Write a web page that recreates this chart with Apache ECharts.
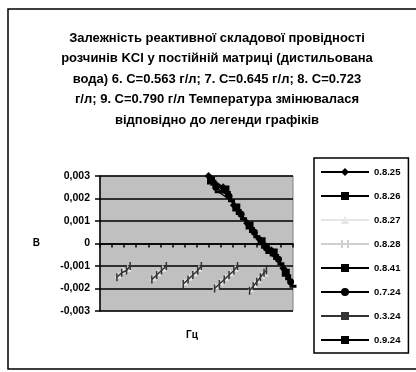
<!DOCTYPE html>
<html><head><meta charset="utf-8">
<script src="https://cdn.jsdelivr.net/npm/echarts@6/dist/echarts.min.js"></script>
<style>html,body{margin:0;padding:0;background:#fff}#c{width:416px;height:372px}</style>
</head><body><div id="c"></div>
<script>
const titleText = 'Залежність реактивної складової провідності\nрозчинів KCl у постійній матриці (дистильована\nвода) 6. C=0.563 г/л; 7. C=0.645 г/л; 8. C=0.723\nг/л; 9. C=0.790 г/л Температура змінювалася\nвідповідно до легенди графіків';
const seriesNames = ['0.8.25','0.8.26','0.8.27','0.8.28','0.8.41','0.7.24','0.3.24','0.9.24'];
const yTickLabels = ['-0,003','-0,002','-0,001','0','0,001','0,002','0,003'];
const xName = 'Гц';
const yName = 'В';

// series values: x positions (frequency steps) and y values; null = gap
const xs1 = [9.0,10.2,11.1,12.2,13.2,14.2,15.2];
const ys1 = [0.0030,0.0025,0.0017,0.0009,0.0002,-0.0003,-0.0011];
const xs2 = [9.2,10.4,11.3,12.4,13.4,14.4,15.4];
const ys2 = [0.0028,0.0024,0.0016,0.0008,0.0001,-0.0004,-0.0013];
const xs3 = [1.5,1.9,2.3,null,4.4,4.8,5.2,null,7.0,7.4,7.8,8.2,null,9.6,10.0,10.4,10.8,11.2,null,12.5,12.8,13.1,13.4,13.7];
const ys3 = [-0.0014,-0.0012,-0.0011,null,-0.0015,-0.0013,-0.0011,null,-0.0017,-0.0015,-0.0013,-0.0011,null,-0.0019,-0.0017,-0.0015,-0.0013,-0.0011,null,-0.0020,-0.0018,-0.0016,-0.0014,-0.0013];
const xs4 = [9.1,10.3,11.2,12.3,13.3,14.3,15.3];
const ys4 = [0.0029,0.0024,0.0016,0.0008,0.0001,-0.0004,-0.0012];
const xs5 = [9.4,10.6,11.5,12.6,13.6,14.6,15.6];
const ys5 = [0.0027,0.0022,0.0014,0.0006,-0.0001,-0.0006,-0.0015];
const xs6 = [9.6,10.7,11.7,12.8,13.8,14.8,15.8];
const ys6 = [0.0025,0.0021,0.0013,0.0005,-0.0002,-0.0007,-0.0017];
const xs7 = [1.4,1.8,2.2,2.5,null,4.3,4.7,5.1,5.5,null,6.9,7.3,7.7,8.1,8.4,null,9.5,9.9,10.3,10.7,11.1,11.4,null,12.4,12.7,13.0,13.3,13.6,13.8];
const ys7 = [-0.0015,-0.0013,-0.0012,-0.0010,null,-0.0016,-0.0014,-0.0012,-0.0010,null,-0.0018,-0.0016,-0.0014,-0.0012,-0.0010,null,-0.0020,-0.0018,-0.0016,-0.0014,-0.0012,-0.0010,null,-0.0021,-0.0019,-0.0017,-0.0015,-0.0013,-0.0012];
const xs8 = [9.8,10.9,11.9,13.0,14.0,15.0,16.0];
const ys8 = [0.0023,0.0019,0.0011,0.0003,-0.0004,-0.0009,-0.0019];

const XS = [xs1,xs2,xs3,xs4,xs5,xs6,xs7,xs8];
const YS = [ys1,ys2,ys3,ys4,ys5,ys6,ys7,ys8];
const styles = [
  {color:'#000', symbol:'diamond', size:8, w:1.5},
  {color:'#000', symbol:'rect', size:8, w:1.5},
  {color:'#e6e6e6', symbol:'triangle', size:7, w:1},
  {color:'#cfcfcf', symbol:'path://M0,0H1V8H0ZM3,0H4V8H3Z', size:[4,8], w:1},
  {color:'#000', symbol:'rect', size:6, w:1.5},
  {color:'#000', symbol:'circle', size:7, w:1.5},
  {color:'#333', symbol:'path://M0,0H1V8H0Z', size:[1.5,8], w:1.5},
  {color:'#000', symbol:'path://M0,0H6V2H0Z', size:[7,3], w:1.5}
];
const series = seriesNames.map((n,i)=>({
  name:n, type:'line',
  data: XS[i].map((x,j)=> x===null ? ['-','-'] : [x, YS[i][j]]),
  symbol: styles[i].symbol, symbolSize: styles[i].size,
  lineStyle:{color:styles[i].color, width:styles[i].w},
  itemStyle:{color:styles[i].color},
  connectNulls:false, animation:false, z: (i===2||i===3)?2:3
}));

const chart = echarts.init(document.getElementById('c'), null, {renderer:'canvas'});
chart.setOption({
  animation:false,
  title:{text:titleText, left:212, top:23, textAlign:'center',
    textStyle:{fontFamily:'Liberation Sans', fontSize:13, fontWeight:'bold', lineHeight:20.5, color:'#000'}},
  grid:{left:100, top:176, width:193, height:135, show:true, backgroundColor:'#c0c0c0', borderColor:'#808080', borderWidth:1},
  xAxis:{type:'value', min:0, max:16, interval:1,
    axisLine:{onZero:true, lineStyle:{color:'#000', width:1.5}},
    axisTick:{show:true, length:4, lineStyle:{color:'#000', width:1.5}},
    axisLabel:{show:false}, splitLine:{show:false}},
  yAxis:{type:'value', min:-0.003, max:0.003, interval:0.001,
    name:yName, nameLocation:'middle', nameGap:60, nameRotate:0,
    nameTextStyle:{fontFamily:'Liberation Sans', fontSize:10, fontWeight:'bold', color:'#000'},
    axisLine:{show:true, lineStyle:{color:'#000', width:1.5}},
    axisTick:{show:true, length:5, lineStyle:{color:'#000', width:1.5}},
    axisLabel:{fontFamily:'Liberation Sans', fontSize:10.5, fontWeight:'bold', color:'#000', margin:10,
      formatter:v=>yTickLabels[Math.round(v*1000)+3]},
    splitLine:{show:true, lineStyle:{color:'#000', width:1.5}}},
  legend:{orient:'vertical', left:314, top:158, itemWidth:48, itemHeight:10, itemGap:14,
    padding:[9,8,8,6], backgroundColor:'#fff', borderColor:'#000', borderWidth:1.5,
    textStyle:{fontFamily:'Liberation Sans', fontSize:9.5, fontWeight:'bold', color:'#000'},
    data:seriesNames},
  graphic:[
    {type:'rect', shape:{x:8, y:9, width:420, height:360}, style:{fill:null, stroke:'#000', lineWidth:1.5}, z:-10},
    {type:'text', left:186, top:330, style:{text:xName, font:'bold 10px "Liberation Sans"', fill:'#000'}}
  ],
  series:series
});
</script></body></html>
